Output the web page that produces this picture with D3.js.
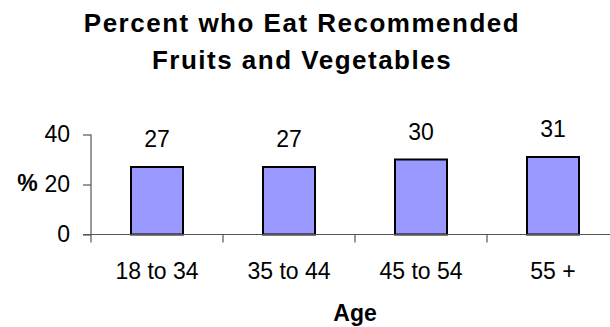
<!DOCTYPE html>
<html>
<head>
<meta charset="utf-8">
<script src="https://cdn.jsdelivr.net/npm/d3@7"></script>
<style>
  html, body { margin: 0; padding: 0; background: #fff; }
  svg { display: block; font-family: "Liberation Sans", Arial, sans-serif; }
</style>
</head>
<body>
<svg id="chart" width="610" height="327"></svg>
<script>
// Chart data
const ageGroups = ["18 to 34", "35 to 44", "45 to 54", "55 +"];
const percentValues = [27, 27, 30, 31];
const yTickValues = [0, 20, 40];
const titleLines = ["Percent who Eat Recommended", "Fruits and Vegetables"];

const svg = d3.select("#chart");

// Plot area
const plotLeft = 91, plotRight = 619, plotBottom = 234.5, plotTop = 134.5;

const x = d3.scaleBand().domain(ageGroups).range([plotLeft, plotRight]).padding(0);
const y = d3.scaleLinear().domain([0, 40]).range([plotBottom, plotTop]);
const barWidth = x.bandwidth() * 0.394;

// Title
svg.append("g")
  .selectAll("text")
  .data(titleLines)
  .join("text")
  .attr("x", 302)
  .attr("y", (d, i) => 32 + i * 37)
  .attr("text-anchor", "middle")
  .attr("font-size", 26)
  .attr("font-weight", "bold")
  .attr("letter-spacing", 1.5)
  .attr("fill", "#000")
  .text(d => d);

// Bars
svg.append("g")
  .selectAll("rect")
  .data(percentValues)
  .join("rect")
  .attr("x", (d, i) => x(ageGroups[i]) + (x.bandwidth() - barWidth) / 2)
  .attr("y", d => y(d))
  .attr("width", barWidth)
  .attr("height", d => plotBottom - y(d))
  .attr("fill", "#9999ff")
  .attr("stroke", "#000")
  .attr("stroke-width", 2);

// Value labels
svg.append("g")
  .selectAll("text")
  .data(percentValues)
  .join("text")
  .attr("x", (d, i) => x(ageGroups[i]) + x.bandwidth() / 2)
  .attr("y", d => y(d) - 20)
  .attr("text-anchor", "middle")
  .attr("font-size", 23)
  .attr("fill", "#000")
  .text(d => d);

// Y axis
const yAxis = svg.append("g")
  .attr("transform", `translate(${plotLeft},0)`)
  .call(d3.axisLeft(y).tickValues(yTickValues).tickSize(8).tickPadding(13));
yAxis.select(".domain").attr("d", `M0,${plotTop}V${plotBottom + 8}`);
yAxis.selectAll("line, path").attr("stroke", "#555").attr("stroke-width", 1.2);
yAxis.selectAll("text")
  .attr("font-size", 23)
  .attr("font-family", "Liberation Sans, Arial, sans-serif")
  .attr("fill", "#000");

// X axis with ticks between categories
const xAxis = svg.append("g")
  .attr("transform", `translate(0,${plotBottom})`);
xAxis.append("path")
  .attr("d", `M${plotLeft - 8},0H${plotRight}`)
  .attr("stroke", "#555").attr("stroke-width", 1.2).attr("fill", "none");
xAxis.selectAll("line.sep")
  .data(ageGroups.slice(1))
  .join("line")
  .attr("class", "sep")
  .attr("x1", d => x(d)).attr("x2", d => x(d))
  .attr("y1", 0).attr("y2", 8)
  .attr("stroke", "#555").attr("stroke-width", 1.2);
xAxis.selectAll("text")
  .data(ageGroups)
  .join("text")
  .attr("x", d => x(d) + x.bandwidth() / 2)
  .attr("y", 44)
  .attr("text-anchor", "middle")
  .attr("font-size", 23)
  .attr("fill", "#000")
  .text(d => d);

// Axis titles
svg.append("text")
  .attr("x", 27.5).attr("y", 191)
  .attr("text-anchor", "middle")
  .attr("font-size", 23).attr("font-weight", "bold")
  .text("%");
svg.append("text")
  .attr("x", (plotLeft + plotRight) / 2).attr("y", 321)
  .attr("text-anchor", "middle")
  .attr("font-size", 23).attr("font-weight", "bold")
  .text("Age");
</script>
</body>
</html>
